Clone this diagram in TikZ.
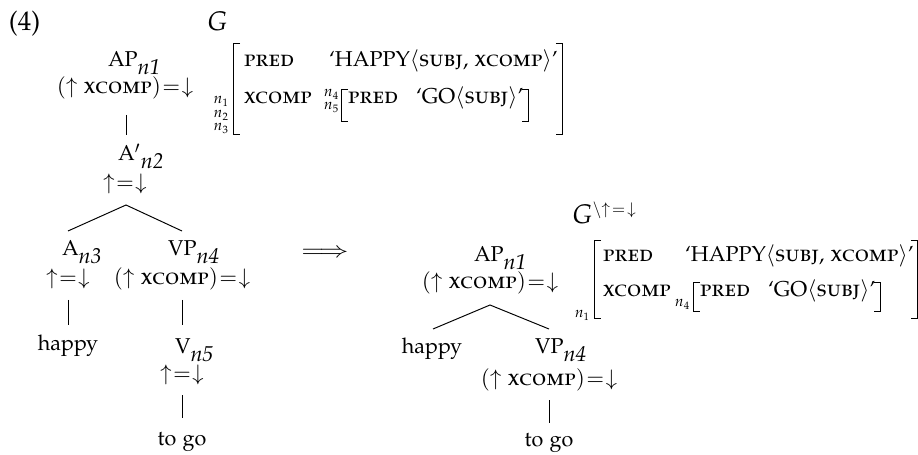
\documentclass[tikz,border=0pt]{standalone}
\usepackage[T1]{fontenc}
\usepackage[sc]{mathpazo}
\usetikzlibrary{calc}
\tikzset{
  lbl/.style={inner sep=0pt, outer sep=0pt, anchor=base west},
  mid/.style={inner sep=0pt, outer sep=0pt, anchor=base},
  big/.style={inner sep=0pt, outer sep=0pt, anchor=base west, font=\fontsize{12.5}{15}\selectfont},
  sml/.style={inner sep=0pt, outer sep=0pt, anchor=base east, font=\scriptsize},
  edge/.style={line width=0.45pt},
  brk/.style={line width=0.45pt},
}
% small capitals for attribute names
\newcommand{\fsc}[1]{{\fontsize{10.8}{13}\selectfont\textsc{#1}}}
\newcommand{\upeqdown}{$\mathord{\uparrow}\mkern1mu{=}\mkern1mu\mathord{\downarrow}$}
\newcommand{\xcompeq}{$(\mathord{\uparrow}\mbox{ \fsc{xcomp}})\mkern1mu{=}\mkern1mu\mathord{\downarrow}$}
\newcommand{\nsub}[1]{$_{\textit{n#1}}$}
\newcommand{\happyval}{`HAPPY$\langle$\fsc{subj}, \fsc{xcomp}$\rangle$'}
\newcommand{\goval}{`GO$\langle$\fsc{subj}$\rangle$'}
\begin{document}
\begin{tikzpicture}[x=0.465pt, y=-0.465pt]
\useasboundingbox (0,0) rectangle (918,455);

% example number and first label
\node[big] (num) at (9,31) {(4)};
\node[big] (g1) at (207,31) {$G$};

% ---- first c-structure tree ----
\node[lbl] (ap1) at (108,67) {AP\nsub1};
\node[mid] (ap1a) at (125,94) {\xcompeq};
\node[lbl] (ab2) at (118,161) {A$'$\nsub2};
\node[mid] (ab2a) at (125,190) {\upeqdown};
\node[lbl] (a3) at (62,256) {A\nsub3};
\node[mid] (a3a) at (68,285) {\upeqdown};
\node[lbl] (vp4) at (168,256) {VP\nsub4};
\node[mid] (vp4a) at (182,285) {\xcompeq};
\node[mid] (hap) at (68,350) {happy};
\node[lbl] (v5) at (175,354) {V\nsub5};
\node[mid] (v5a) at (182,380) {\upeqdown};
\node[mid] (tg) at (182,445) {to go};

\draw[edge] ($(ap1a.base)+(1,21)$) -- ($(ap1a.base |- ab2.base)+(1,-26)$);
\coordinate (k1) at ($(ab2a.base)+(1,15)$);
\draw[edge] ($(a3a.base |- a3.base)+(0,-25)$) -- (k1) -- ($(vp4a.base |- vp4.base)+(0,-25)$);
\draw[edge] ($(a3a.base)+(0,15)$) -- ($(a3a.base |- hap.base)+(0,-25)$);
\draw[edge] ($(vp4a.base)+(0,15)$) -- ($(vp4a.base |- v5.base)+(0,-29)$);
\draw[edge] ($(v5a.base)+(0,15)$) -- ($(v5a.base |- tg.base)+(0,-27)$);

% ---- first f-structure ----
\node[lbl] (p1) at (244,67) {\fsc{pred}};
\node[lbl] (hv1) at (329,67) {\happyval};
\node[lbl] (x1) at (244,104) {\fsc{xcomp}};
\node[lbl,font=\scriptsize] (l4) at (324,97) {$n_4$};
\node[lbl,font=\scriptsize] (l5) at (324,110) {$n_5$};
\node[lbl] (p1i) at (348,104) {\fsc{pred}};
\node[lbl] (gv1) at (416,104) {\goval};
\node[sml] (m1) at (229,104) {$n_1$};
\node[sml] (m2) at (229,118) {$n_2$};
\node[sml] (m3) at (229,131) {$n_3$};

\draw[brk] (240,43) -- (233,43) -- (233,134) -- (240,134);
\coordinate (rb1) at ($(hv1.base east)+(5,0)$);
\draw[brk] ($(rb1 |- 0,43)+(-7,0)$) -- (rb1 |- 0,43) -- (rb1 |- 0,134) -- ++(-7,0);
\draw[brk] (348,89) -- (341,89) -- (341,121) -- (348,121);
\coordinate (rb2) at ($(gv1.base east)+(5,0)$);
\draw[brk] ($(rb2 |- 0,89)+(-7,0)$) -- (rb2 |- 0,89) -- (rb2 |- 0,121) -- ++(-7,0);

% ---- arrow ----
\node[inner sep=0pt] (impl) at (325,253) {\scalebox{1.3}[1]{$\Longrightarrow$}};

% ---- second label ----
\node[big] (g2) at (572,224) {$G$\raisebox{4.3pt}{\fontsize{7.5}{9}\selectfont$\backslash\mathord{\uparrow}\mkern2mu{=}\mkern2mu\mathord{\downarrow}$}};

% ---- second c-structure tree ----
\node[lbl] (ap1r) at (474,262) {AP\nsub1};
\node[mid] (ap1ra) at (490,289) {\xcompeq};
\node[mid] (hapr) at (432,354) {happy};
\node[lbl] (vp4r) at (535,354) {VP\nsub4};
\node[mid] (vp4ra) at (549,386) {\xcompeq};
\node[mid] (tgr) at (549,446) {to go};

\coordinate (k2) at ($(ap1ra.base)+(0,16)$);
\draw[edge] ($(hapr.base)+(1,-25)$) -- (k2) -- ($(vp4ra.base |- vp4r.base)+(0,-25)$);
\draw[edge] ($(vp4ra.base)+(0,14)$) -- ($(vp4ra.base |- tgr.base)+(0,-23)$);

% ---- second f-structure ----
\node[lbl] (p2) at (603,262) {\fsc{pred}};
\node[lbl] (hv2) at (685,262) {\happyval};
\node[lbl] (x2) at (603,297) {\fsc{xcomp}};
\node[lbl,font=\scriptsize] (l4r) at (675,307) {$n_4$};
\node[lbl] (p2i) at (700,297) {\fsc{pred}};
\node[lbl] (gv2) at (768,297) {\goval};
\node[sml] (m1r) at (590,318) {$n_1$};

\draw[brk] (601,240) -- (594,240) -- (594,318) -- (601,318);
\coordinate (rb3) at ($(hv2.base east)+(4,0)$);
\draw[brk] ($(rb3 |- 0,240)+(-7,0)$) -- (rb3 |- 0,240) -- (rb3 |- 0,318) -- ++(-7,0);
\draw[brk] (700,282) -- (693,282) -- (693,311) -- (700,311);
\coordinate (rb4) at ($(gv2.base east)+(5,0)$);
\draw[brk] ($(rb4 |- 0,282)+(-7,0)$) -- (rb4 |- 0,282) -- (rb4 |- 0,311) -- ++(-7,0);
\end{tikzpicture}
\end{document}
